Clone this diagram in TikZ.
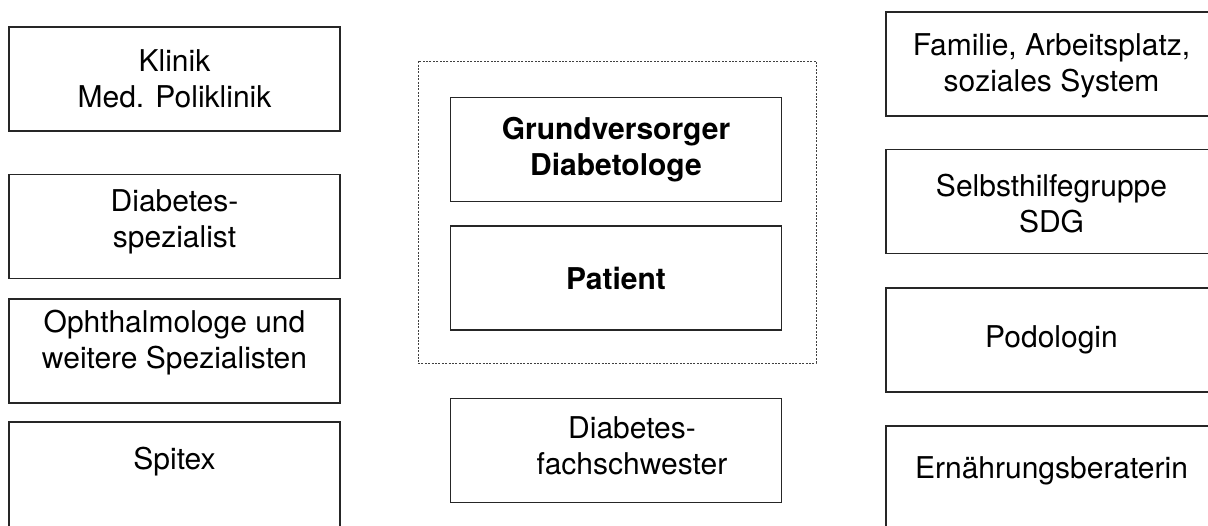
\documentclass[tikz,border=0pt]{standalone}
\usepackage{fontspec}
\setmainfont{TeX Gyre Heros}
\usepackage{tikz}

\begin{document}
\begin{tikzpicture}[x=1pt, y=-1pt,
    box/.style={draw=black!85, line width=1.1pt, minimum width=331pt, minimum height=104pt, inner sep=0pt},
    boxtext/.style={align=center, font=\fontsize{30}{36}\selectfont, inner sep=0pt},
    group/.style={draw=black!75, line width=0.8pt, dash pattern=on 2pt off 1.4pt}]
    \useasboundingbox (0, 0) rectangle (1208, 526);

    % left column
    \node[box] (klinik) at (174.5, 79) {};
    \node[boxtext] (klinik-t) at (klinik) {Klinik\\Med. Poliklinik};
    \node[box] (spezialist) at (174.5, 226.5) {};
    \node[boxtext] (spezialist-t) at ([yshift=5]spezialist) {Diabetes-\\spezialist};
    \node[box] (ophtha) at (174.5, 351) {};
    \node[boxtext] (ophtha-t) at ([yshift=8]ophtha) {Ophthalmologe und\\weitere Spezialisten};
    \node[box, minimum height=112pt] (spitex) at (174.5, 478) {};
    \node[boxtext] (spitex-t) at ([yshift=16]spitex) {Spitex};

    % middle column
    \node[group, minimum width=398pt, minimum height=302pt, inner sep=0pt] (team) at (617, 212) {};
    \node[box] (grund) at (616, 149.5) {};
    \node[boxtext, font=\fontsize{30}{36}\selectfont\bfseries] (grund-t) at (grund) {Grundversorger\\Diabetologe};
    \node[box] (patient) at (616, 278) {};
    \node[boxtext, font=\fontsize{30}{36}\selectfont\bfseries] (patient-t) at (patient) {Patient};
    \node[box] (schwester) at (616, 450.5) {};
    \node[boxtext] (schwester-t) at ([xshift=16, yshift=5]schwester) {Diabetes-\\fachschwester};

    % right column
    \node[box] (familie) at (1051.5, 64) {};
    \node[boxtext] (familie-t) at ([yshift=-2]familie) {Familie, Arbeitsplatz,\\soziales System};
    \node[box] (shg) at (1051.5, 201.5) {};
    \node[boxtext] (shg-t) at ([yshift=-2]shg) {Selbsthilfegruppe\\SDG};
    \node[box] (podo) at (1051.5, 340) {};
    \node[boxtext] (podo-t) at (podo) {Podologin};
    \node[box, minimum height=112pt] (ernaehrung) at (1051.5, 482) {};
    \node[boxtext] (ernaehrung-t) at ([yshift=11]ernaehrung) {Ernährungsberaterin};
\end{tikzpicture}
\end{document}
